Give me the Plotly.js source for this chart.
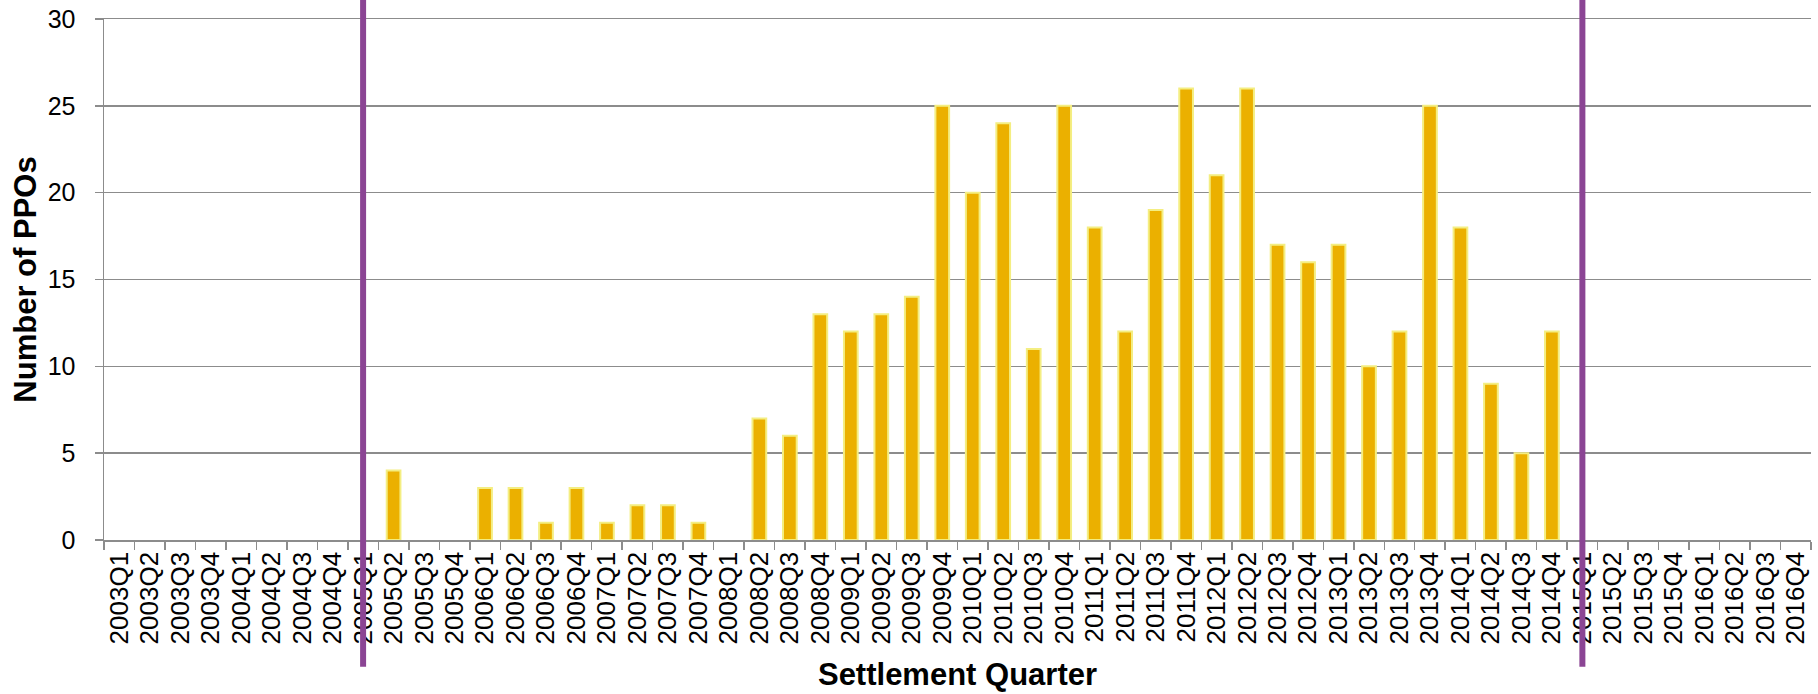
<!DOCTYPE html>
<html>
<head>
<meta charset="utf-8">
<script src="https://cdn.plot.ly/plotly-3.0.1.min.js"></script>
<style>
html,body{margin:0;padding:0;background:#fff;}
#chart{width:1818px;height:694px;}
</style>
</head>
<body>
<div id="chart"></div>
<script>
const quarters = [
  '2003Q1','2003Q2','2003Q3','2003Q4',
  '2004Q1','2004Q2','2004Q3','2004Q4',
  '2005Q1','2005Q2','2005Q3','2005Q4',
  '2006Q1','2006Q2','2006Q3','2006Q4',
  '2007Q1','2007Q2','2007Q3','2007Q4',
  '2008Q1','2008Q2','2008Q3','2008Q4',
  '2009Q1','2009Q2','2009Q3','2009Q4',
  '2010Q1','2010Q2','2010Q3','2010Q4',
  '2011Q1','2011Q2','2011Q3','2011Q4',
  '2012Q1','2012Q2','2012Q3','2012Q4',
  '2013Q1','2013Q2','2013Q3','2013Q4',
  '2014Q1','2014Q2','2014Q3','2014Q4',
  '2015Q1','2015Q2','2015Q3','2015Q4',
  '2016Q1','2016Q2','2016Q3','2016Q4'
];
const ppoCounts = [
  0,0,0,0,
  0,0,0,0,
  0,4,0,0,
  3,3,1,3,
  1,2,2,1,
  0,7,6,13,
  12,13,14,25,
  20,24,11,25,
  18,12,19,26,
  21,26,17,16,
  17,10,12,25,
  18,9,5,12,
  0,0,0,0,
  0,0,0,0
];
const markerQuarters = ['2005Q1','2015Q1'];
const yTickValues = [0,5,10,15,20,25,30];

const font = 'Liberation Sans, Arial, sans-serif';

const trace = {
  type: 'bar',
  x: quarters,
  y: ppoCounts,
  marker: {
    color: '#EBB000',
    line: {color: '#F4EE82', width: ppoCounts.map(v => v > 0 ? 2 : 0)}
  },
  hoverinfo: 'x+y'
};

const shapes = markerQuarters.map(q => ({
  type: 'line', xref: 'x', yref: 'paper',
  x0: q, x1: q, y0: -0.2435, y1: 1.04,
  line: {color: '#8B4594', width: 6},
  layer: 'above'
}));

const layout = {
  width: 1818, height: 694,
  margin: {l: 104, r: 7, t: 19, b: 154},
  paper_bgcolor: '#fff', plot_bgcolor: '#fff',
  font: {family: font, color: '#000', size: 26},
  bargap: 0.55,
  showlegend: false,
  xaxis: {
    type: 'category',
    categoryorder: 'array', categoryarray: quarters,
    tickmode: 'array', tickvals: quarters, ticktext: quarters,
    tickangle: -90,
    ticks: 'outside', tickson: 'boundaries', ticklen: 8, tickwidth: 1.5, tickcolor: '#8c8c8c',
    showline: true, linecolor: '#8c8c8c', linewidth: 1.5, mirror: true,
    showgrid: false,
    tickfont: {family: font, size: 26, color: '#000'},
    title: {text: 'Settlement Quarter', font: {family: font, size: 31, color: '#000', weight: 'bold'}, standoff: 20},
    automargin: false
  },
  yaxis: {
    range: [0, 30],
    tickvals: yTickValues,
    ticks: 'outside', ticklen: 8, tickwidth: 1.5, tickcolor: '#8c8c8c',
    showline: true, linecolor: '#8c8c8c', linewidth: 1.5,
    showgrid: true, gridcolor: '#8c8c8c', gridwidth: 1.5,
    zeroline: false,
    tickfont: {family: font, size: 25, color: '#000'},
    ticklabelstandoff: 14,
    title: {text: 'Number of PPOs', font: {family: font, size: 31, color: '#000', weight: 'bold'}, standoff: 2},
    automargin: false
  },
  shapes: shapes
};

Plotly.newPlot('chart', [trace], layout, {displayModeBar: false, staticPlot: true});
</script>
</body>
</html>
